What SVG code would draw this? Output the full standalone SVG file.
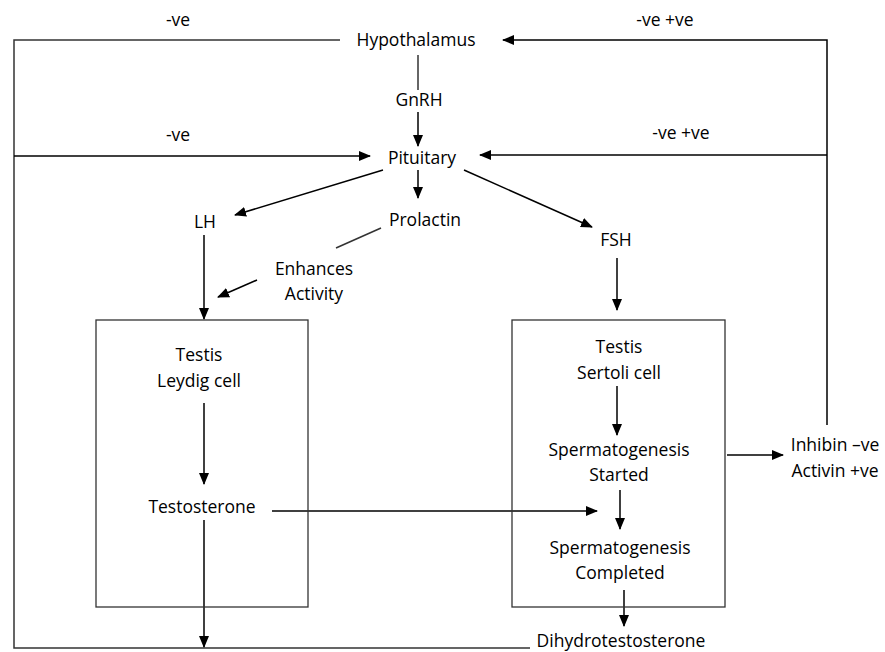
<svg xmlns="http://www.w3.org/2000/svg" width="885" height="652" viewBox="0 0 885 652">
<defs>
<marker id="ah" markerWidth="12" markerHeight="12" viewBox="0 0 12 12" refX="11" refY="6" orient="auto" markerUnits="userSpaceOnUse">
<path d="M0,1 L12,6 L0,11 Z" fill="#000"/>
</marker>
<style>
text{font-family:"Open Sans","Liberation Sans",sans-serif;font-size:17.5px;fill:#000;text-anchor:middle}
.ln{stroke:#333;stroke-width:1.5;fill:none}
.ar{stroke:#000;stroke-width:1.5;fill:none;marker-end:url(#ah)}
.box{stroke:#333;stroke-width:1.3;fill:none}
</style>
</defs>
<rect width="885" height="652" fill="#fff"/>
<g id="connectors">
<polyline class="ln" points="340,40 14,40 14,648 530,648"/>
<line class="ar" x1="14" y1="156" x2="370" y2="156"/>
<polyline class="ar" points="827,425 827,40 503,40"/>
<line class="ar" x1="827" y1="155" x2="480" y2="155"/>
<line class="ln" x1="418" y1="55" x2="418" y2="90"/>
<line class="ar" x1="418" y1="112" x2="418" y2="146"/>
<line class="ar" x1="418" y1="170" x2="418" y2="198"/>
<line class="ar" x1="383" y1="170" x2="235" y2="215"/>
<line class="ar" x1="464" y1="170" x2="592" y2="227"/>
<line class="ar" x1="204" y1="235" x2="204" y2="319"/>
<line class="ln" x1="381" y1="228" x2="336" y2="248"/>
<line class="ar" x1="257" y1="280" x2="218" y2="297"/>
<line class="ar" x1="204" y1="403" x2="204" y2="484"/>
<line class="ar" x1="204" y1="520" x2="204" y2="647"/>
<line class="ar" x1="272" y1="511" x2="597" y2="511"/>
<line class="ar" x1="617" y1="258" x2="617" y2="310"/>
<line class="ar" x1="617" y1="386" x2="617" y2="435"/>
<line class="ar" x1="620" y1="490" x2="620" y2="529"/>
<line class="ar" x1="624" y1="590" x2="624" y2="626"/>
<line class="ar" x1="727" y1="455" x2="783" y2="455"/>
</g>
<g id="labels">
<text x="178" y="26">-ve</text>
<text x="178" y="141">-ve</text>
<text x="665" y="26">-ve +ve</text>
<text x="681" y="139">-ve +ve</text>
</g>
<g id="hypothalamus"><text x="416" y="46">Hypothalamus</text></g>
<g id="gnrh"><text x="419" y="106">GnRH</text></g>
<g id="pituitary"><text x="422" y="164">Pituitary</text></g>
<g id="lh"><text x="205" y="228">LH</text></g>
<g id="prolactin"><text x="425" y="226">Prolactin</text></g>
<g id="fsh"><text x="616" y="246">FSH</text></g>
<g id="enhances"><text x="314" y="275">Enhances</text><text x="314" y="300">Activity</text></g>
<g id="leydig-box">
<rect class="box" x="96" y="320" width="212" height="287"/>
<text x="199" y="361">Testis</text><text x="199" y="387">Leydig cell</text>
</g>
<g id="testosterone"><text x="202" y="513">Testosterone</text></g>
<g id="sertoli-box">
<rect class="box" x="512" y="320" width="213" height="287"/>
<text x="619" y="353">Testis</text><text x="619" y="379">Sertoli cell</text>
</g>
<g id="sperm-started"><text x="619" y="456">Spermatogenesis</text><text x="619" y="481">Started</text></g>
<g id="sperm-completed"><text x="620" y="554">Spermatogenesis</text><text x="620" y="579">Completed</text></g>
<g id="inhibin"><text x="835" y="451">Inhibin –ve</text><text x="835" y="477">Activin +ve</text></g>
<g id="dht"><text x="621" y="647">Dihydrotestosterone</text></g>
</svg>
